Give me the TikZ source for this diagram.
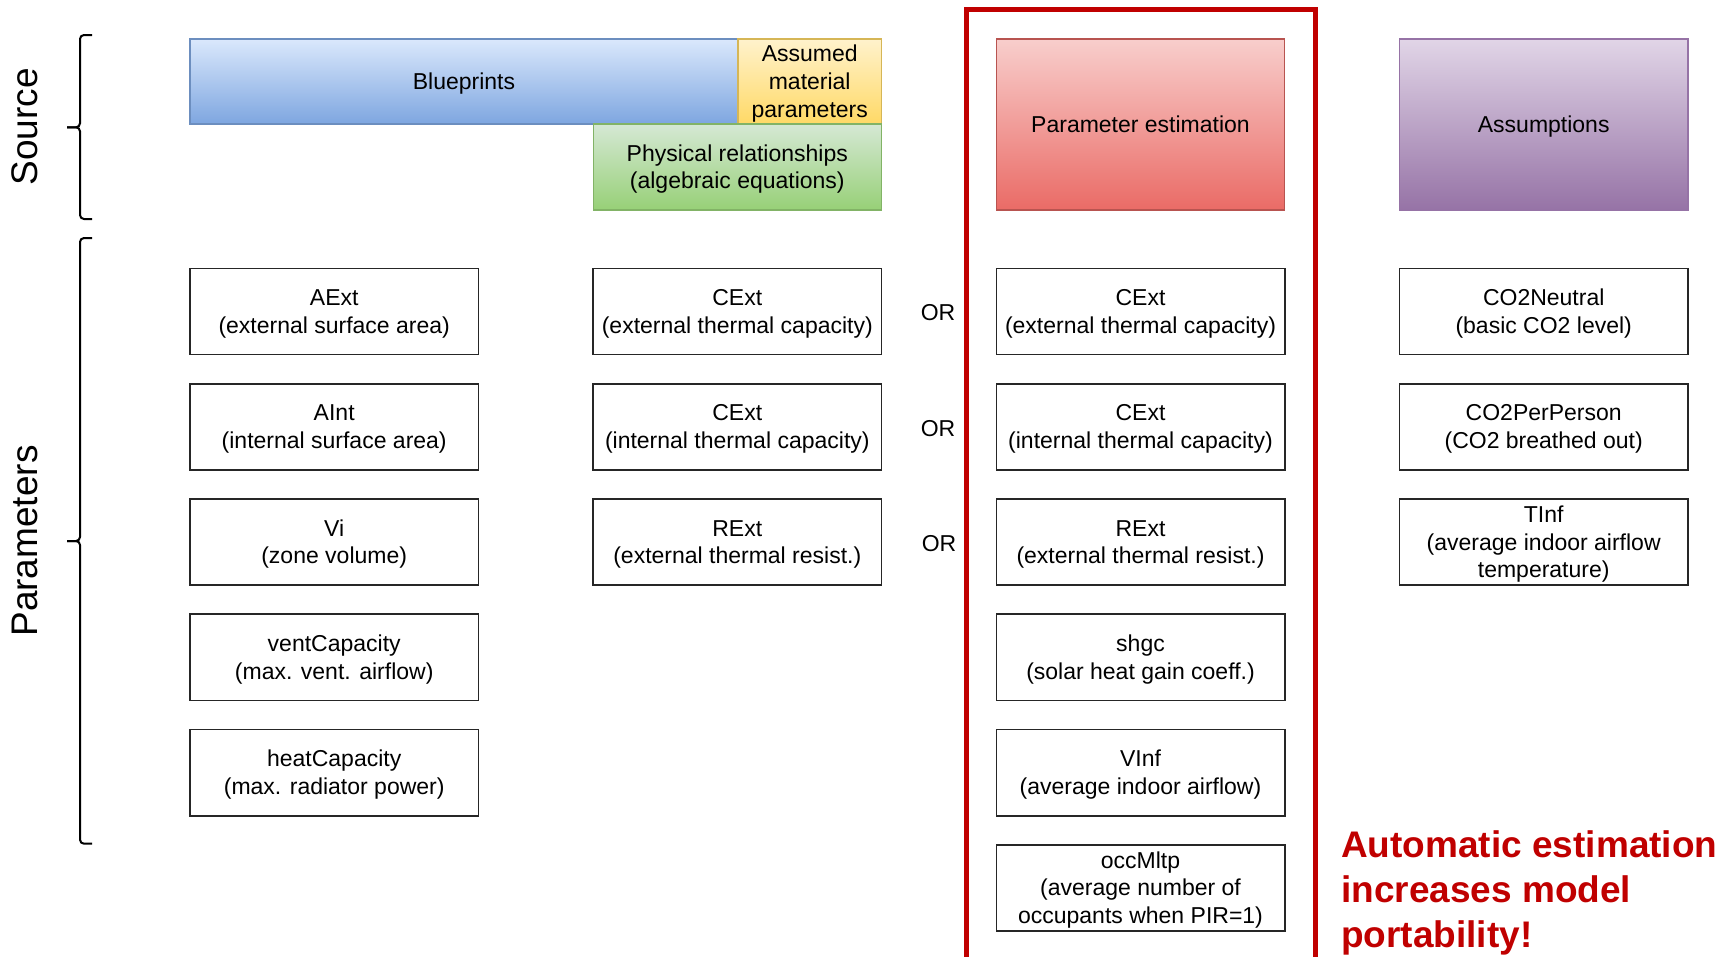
\documentclass[tikz,border=0pt]{standalone}
\usepackage{fontspec}
\setmainfont{Liberation Sans}

\definecolor{bpTop}{HTML}{DAE8FC}\definecolor{bpBot}{HTML}{7EA6E0}\definecolor{bpLine}{HTML}{6C8EBF}
\definecolor{amTop}{HTML}{FFF2CC}\definecolor{amBot}{HTML}{FFD966}\definecolor{amLine}{HTML}{D6B656}
\definecolor{prTop}{HTML}{D5E8D4}\definecolor{prBot}{HTML}{97D077}\definecolor{prLine}{HTML}{82B366}
\definecolor{peTop}{HTML}{F8CECC}\definecolor{peBot}{HTML}{EA6B66}\definecolor{peLine}{HTML}{B85450}
\definecolor{asTop}{HTML}{E1D5E7}\definecolor{asBot}{HTML}{9673A6}\definecolor{asLine}{HTML}{9673A6}
\definecolor{frameRed}{HTML}{C00000}
\definecolor{boxLine}{HTML}{262626}

% line-box struts so that text is centred by ascent/descent, not by glyph extent
\newcommand{\topstrut}{\rule{0pt}{0.905em}}
\newcommand{\botstrut}{\rule[-0.212em]{0pt}{0pt}}

\begin{document}
\begin{tikzpicture}[x=1pt,y=-1pt,
  every node/.style={font=\fontsize{23}{27.6}\selectfont, align=center, inner sep=0pt,
    execute at begin node=\topstrut, execute at end node=\botstrut},
  parambox/.style={draw=boxLine, line width=1.7pt, fill=white,
    minimum width=288.3pt, minimum height=86.2pt},
  header/.style={line width=1.3pt},
  orlabel/.style={},
  sidelabel/.style={rotate=90, font=\fontsize{37}{44}\selectfont},
  bracket/.style={line width=2pt, rounded corners=4pt},
  frame/.style={draw=frameRed, line width=5pt, line join=miter},
  note/.style={text=frameRed, align=left, anchor=north west,
    font=\bfseries\fontsize{37}{45}\selectfont}
]
\useasboundingbox (0,0) rectangle (1732,956);

% column centres: 334.2, 737.3, 1140.5, 1543.7
% row centres: 311.5 + 115.3 k

% ---------- source headers ----------
\node[header, draw=bpLine, top color=bpTop, bottom color=bpBot,
  minimum width=548pt, minimum height=85pt] (blue) at (464,81.5) {Blueprints};
\node[header, draw=amLine, top color=amTop, bottom color=amBot,
  minimum width=143.5pt, minimum height=85pt] (mat) at (809.7,81.5)
  {\topstrut Assumed\\material\\parameters};
\node[header, draw=prLine, top color=prTop, bottom color=prBot,
  minimum width=288.3pt, minimum height=86pt] (phys) at (737.3,167)
  {\topstrut Physical relationships\\(algebraic equations)};
\node[header, draw=peLine, top color=peTop, bottom color=peBot,
  minimum width=288.3pt, minimum height=171pt] (est) at (1140.5,124.5)
  {Parameter estimation};
\node[header, draw=asLine, top color=asTop, bottom color=asBot,
  minimum width=288.3pt, minimum height=171pt] (assum) at (1543.7,124.5)
  {Assumptions};

% ---------- column 1: blueprints ----------
\node[parambox] (aext) at (334.2,311.5) {\topstrut AExt\\(external surface area)};
\node[parambox] (aint) at (334.2,426.8) {\topstrut AInt\\(internal surface area)};
\node[parambox] (vi)   at (334.2,542.1) {\topstrut Vi\\(zone volume)};
\node[parambox] (vent) at (334.2,657.4) {\topstrut ventCapacity\\(max. vent. airflow)};
\node[parambox] (heat) at (334.2,772.7) {\topstrut heatCapacity\\(max. radiator power)};

% ---------- column 2: physical relationships ----------
\node[parambox] (cextA) at (737.3,311.5) {\topstrut CExt\\(external thermal capacity)};
\node[parambox] (cintA) at (737.3,426.8) {\topstrut CExt\\(internal thermal capacity)};
\node[parambox] (rextA) at (737.3,542.1) {\topstrut RExt\\(external thermal resist.)};

% ---------- alternatives ----------
\node[orlabel] (or1) at (938,312.6) {OR};
\node[orlabel] (or2) at (938,428.6) {OR};
\node[orlabel] (or3) at (939,543.5) {OR};

% ---------- column 3: parameter estimation ----------
\node[parambox] (cextB) at (1140.5,311.5) {\topstrut CExt\\(external thermal capacity)};
\node[parambox] (cintB) at (1140.5,426.8) {\topstrut CExt\\(internal thermal capacity)};
\node[parambox] (rextB) at (1140.5,542.1) {\topstrut RExt\\(external thermal resist.)};
\node[parambox] (shgc)  at (1140.5,657.4) {\topstrut shgc\\(solar heat gain coeff.)};
\node[parambox] (vinf)  at (1140.5,772.7) {\topstrut VInf\\(average indoor airflow)};
\node[parambox] (occ)   at (1140.5,888.0) {\topstrut occMltp\\(average number of\\occupants when PIR=1)};

% ---------- column 4: assumptions ----------
\node[parambox] (co2n) at (1543.7,311.5) {\topstrut CO2Neutral\\(basic CO2 level)};
\node[parambox] (co2p) at (1543.7,426.8) {\topstrut CO2PerPerson\\(CO2 breathed out)};
\node[parambox] (tinf) at (1543.7,542.1) {\topstrut TInf\\(average indoor airflow\\temperature)};

% ---------- frame around the estimated parameters ----------
\coordinate (fBL) at (966,975);
\coordinate (fTL) at (966,9);
\coordinate (fTR) at (1315,9);
\coordinate (fBR) at (1315,975);
\draw[frame] (fBL) -- (fTL) -- (fTR) -- (fBR);

\node[note] (msg) at (1341,830) {Automatic estimation\\increases model\\portability!};

% ---------- row labels with curly brackets ----------
\coordinate (srcTop) at (92,35);
\coordinate (srcMid) at (67,127.3);
\coordinate (srcBot) at (92,219);
\coordinate (parTop) at (92,238);
\coordinate (parMid) at (67,541);
\coordinate (parBot) at (92,843.7);
\draw[bracket] (srcTop) -- (80,35) -- (80,127.3) -- (srcMid);
\draw[bracket] (srcMid) -- (80,127.3) -- (80,219) -- (srcBot);
\draw[bracket] (parTop) -- (80,238) -- (80,541) -- (parMid);
\draw[bracket] (parMid) -- (80,541) -- (80,843.7) -- (parBot);
\node[sidelabel] (src) at (25,127) {Source};
\node[sidelabel] (par) at (25,541) {Parameters};
\end{tikzpicture}
\end{document}
